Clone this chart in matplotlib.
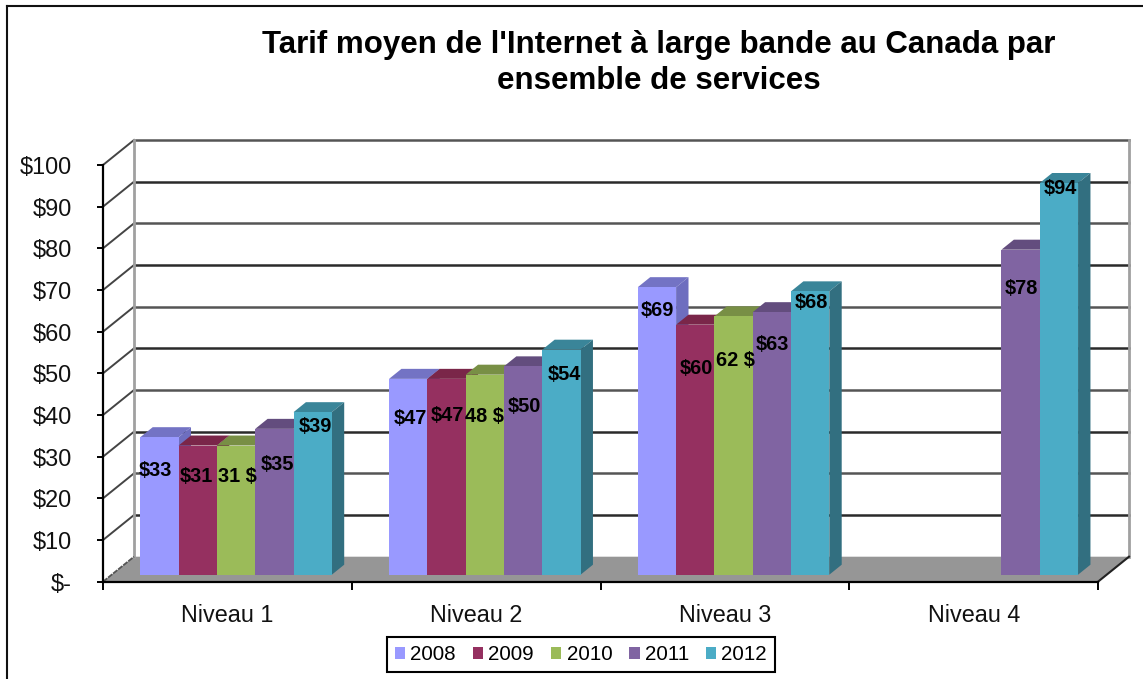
import matplotlib
matplotlib.use("Agg")
import matplotlib.pyplot as plt
from matplotlib.patches import Polygon, Patch
from matplotlib.lines import Line2D

categories = ["Niveau 1", "Niveau 2", "Niveau 3", "Niveau 4"]
years = ["2008", "2009", "2010", "2011", "2012"]
v2008 = [33, 47, 69, None]
v2009 = [31, 47, 60, None]
v2010 = [31, 48, 62, None]
v2011 = [35, 50, 63, 78]
v2012 = [39, 54, 68, 94]
series = [v2008, v2009, v2010, v2011, v2012]
labels2008 = ["$33", "$47", "$69", None]
labels2009 = ["$31", "$47", "$60", None]
labels2010 = ["31 $", "48 $", "62 $", None]
labels2011 = ["$35", "$50", "$63", "$78"]
labels2012 = ["$39", "$54", "$68", "$94"]
all_labels = [labels2008, labels2009, labels2010, labels2011, labels2012]
yticks = [0, 10, 20, 30, 40, 50, 60, 70, 80, 90, 100]
yticklabels = ["$-", "$10", "$20", "$30", "$40", "$50", "$60", "$70", "$80", "$90", "$100"]
title = "Tarif moyen de l'Internet à large bande au Canada par\nensemble de services"

front = ["#9999FF", "#953060", "#9BBB59", "#8064A2", "#4BACC6"]
top = ["#7373C4", "#7A2649", "#788F45", "#634D7E", "#3A8599"]
side = ["#6E6EBF", "#6F2347", "#6F8740", "#5D4976", "#326F80"]

# label centres in pixels: (x, y) by series and category
label_px = [
    [(155, 471), (410, 419), (657, 311), None],
    [(196, 476), (447, 415), (696, 368), None],
    [(237, 477), (484, 416), (735, 361), None],
    [(277, 464), (524, 407), (772, 344), (1021, 288)],
    [(315, 426), (564, 375), (811, 303), (1060, 189)],
]

W, H, DPI = 1143, 679, 100
fig = plt.figure(figsize=(W / DPI, H / DPI), dpi=DPI, facecolor="white")
plt.rcParams["font.family"] = ["Liberation Sans", "DejaVu Sans"]

L, R, Y0, Y100 = 103, 1098, 581.7, 165
ax = fig.add_axes([L / W, 1 - Y0 / H, (R - L) / W, (Y0 - Y100) / H])
ax.set_xlim(0, 4)
ax.set_ylim(0, 100)
ax.patch.set_alpha(0)
for s in ["top", "right"]:
    ax.spines[s].set_visible(False)
for s in ["left", "bottom"]:
    ax.spines[s].set_color("black")
    ax.spines[s].set_linewidth(1.6)

# depth projection: depth 1 = the back wall
DX = 31 / ((R - L) / 4)
DY = 25 / ((Y0 - Y100) / 100)
def proj(x, y, d):
    return (x + d * DX, y + d * DY)

# floor
ax.add_patch(Polygon([proj(0, 0, 0), proj(4, 0, 0), proj(4, 0, 1), proj(0, 0, 1)],
                     closed=True, fc="#969696", ec="none", zorder=1, clip_on=False))
ax.plot(*zip(proj(4, 0, 0), proj(4, 0, 1)), color="#222222", lw=1.5, zorder=2, clip_on=False)
ax.plot(*zip(proj(0, 0, 0), proj(0, 0, 1)), color="#555555", lw=1.3, ls=(0, (3, 0.6)), zorder=2, clip_on=False)

# walls & gridlines
for t in yticks:
    if t > 0:
        ax.plot(*zip(proj(0, t, 1), proj(4, t, 1)), color="#2a2a2a" if t % 20 else "#555555",
                lw=1.8, zorder=1.5, clip_on=False)
        ax.plot(*zip(proj(0, t, 0), proj(0, t, 1)), color="#444444", lw=1.4, zorder=1.5, clip_on=False)
ax.plot(*zip(proj(0, 0, 1), proj(0, 100, 1)), color="#a0a0a0", lw=2, zorder=1.6, clip_on=False)
ax.plot(*zip(proj(4, 0, 1), proj(4, 100, 1)), color="#a0a0a0", lw=2, zorder=1.6, clip_on=False)

# bars
BAR_W = 38.3 / ((R - L) / 4)
D_FRONT, D_BACK = 0.28, 0.68
base = D_FRONT * DY
for si, vals in enumerate(series):
    for ci, v in enumerate(vals):
        if v is None:
            continue
        x0 = ci + 0.5 + (si - 2.5) * BAR_W
        xf = proj(x0, 0, D_FRONT)[0]
        ax.bar(xf, v, BAR_W, bottom=base, align="edge", color=front[si], lw=0, zorder=5 + si + 0.5)
        dxd = (D_BACK - D_FRONT) * DX
        dyd = (D_BACK - D_FRONT) * DY
        xr = xf + BAR_W
        ytop = base + v
        ax.add_patch(Polygon([(xf, ytop), (xr, ytop), (xr + dxd, ytop + dyd), (xf + dxd, ytop + dyd)],
                             closed=True, fc=top[si], ec="none", zorder=5 + si, clip_on=False))
        ax.add_patch(Polygon([(xr, base), (xr + dxd, base + dyd), (xr + dxd, ytop + dyd), (xr, ytop)],
                             closed=True, fc=side[si], ec="none", zorder=5 + si, clip_on=False))

# axes ticks
ax.set_yticks(yticks)
ax.set_yticklabels(yticklabels, fontsize=16.9, color="#111111")
ax.set_xticks([0, 1, 2, 3, 4])
ax.set_xticklabels([])
ax.tick_params(axis="y", length=4, width=1.4, pad=18.4, color="black")
ax.tick_params(axis="x", length=6, width=1.4, color="black")
ax.set_xticks([0.5, 1.5, 2.5, 3.5], minor=True)
ax.set_xticklabels(categories, minor=True, fontsize=16.8, color="#111111")
ax.tick_params(axis="x", which="minor", length=0, pad=16)

# data labels
for si, row in enumerate(all_labels):
    for ci, lab in enumerate(row):
        if lab is None:
            continue
        px, py = label_px[si][ci]
        fig.text(px / W, 1 - py / H, lab, ha="center", va="center", fontsize=14.4,
                 fontweight="bold", color="black", zorder=30)

# title
fig.text(659 / W, 1 - 63 / H, title, ha="center", va="center", fontsize=22.5, fontweight="bold",
         color="black", linespacing=1.22)

# outer frame (top and left only are in view)
fig.add_artist(Line2D([7 / W, 7 / W], [0, 1 - 6 / H], color="#111111", lw=1.5))
fig.add_artist(Line2D([7 / W, 1], [1 - 6 / H, 1 - 6 / H], color="#111111", lw=1.5))

# legend
handles = [Patch(fc=c, ec="none", label=y) for c, y in zip(front, years)]
leg = fig.legend(handles=handles, ncols=5, loc="center", bbox_to_anchor=(581 / W, 1 - 654.5 / H),
                 fontsize=14.9, frameon=True, fancybox=False, edgecolor="black", framealpha=1,
                 handlelength=0.5, handleheight=0.5, handletextpad=0.25, columnspacing=0.82,
                 borderpad=0.4, borderaxespad=0)
leg.get_frame().set_linewidth(1.5)

fig.savefig("out.png", dpi=DPI)
